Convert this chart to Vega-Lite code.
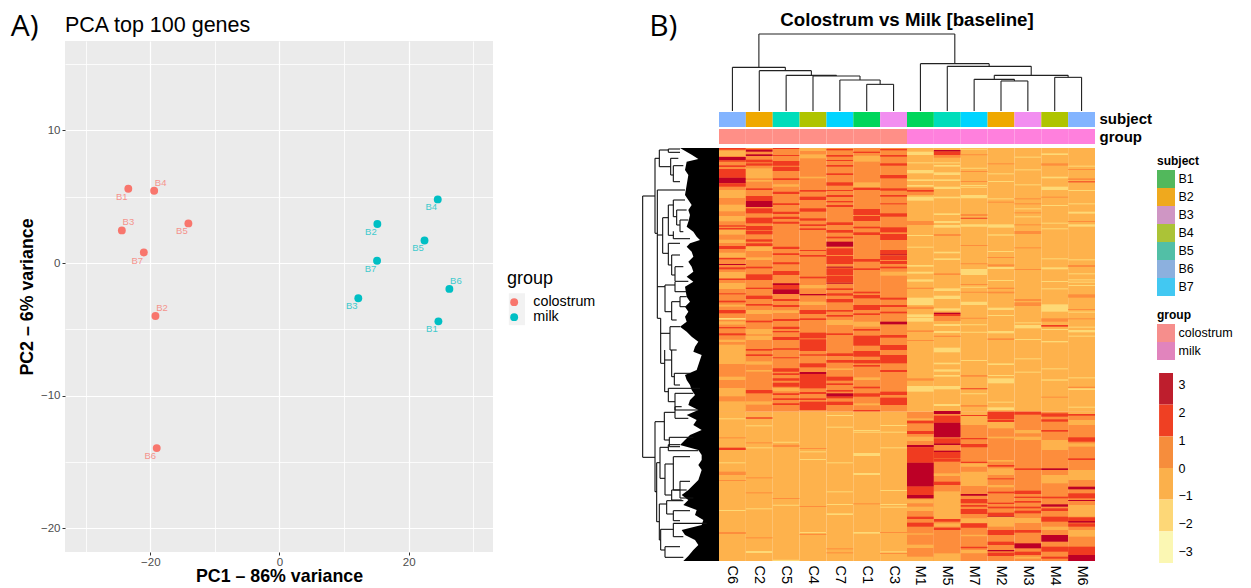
{"$schema":"https://vega.github.io/schema/vega-lite/v6.json","padding":{"left":10,"top":10,"right":0,"bottom":0},"background":"white","config":{"font":"Liberation Sans","view":{"stroke":null}},"spacing":5,"resolve":{"scale":{"color":"independent"},"legend":{"color":"independent"}},"datasets":{"pca":[{"s":"B1","g":"colostrum","x":-23.4,"y":5.6,"p":"dl"},{"s":"B4","g":"colostrum","x":-19.4,"y":5.45,"p":"ur"},{"s":"B3","g":"colostrum","x":-24.4,"y":2.46,"p":"ur"},{"s":"B5","g":"colostrum","x":-14.1,"y":2.99,"p":"dl"},{"s":"B7","g":"colostrum","x":-21.0,"y":0.79,"p":"dl"},{"s":"B2","g":"colostrum","x":-19.2,"y":-4.0,"p":"ur"},{"s":"B6","g":"colostrum","x":-19.0,"y":-13.96,"p":"dl"},{"s":"B4","g":"milk","x":24.5,"y":4.8,"p":"dl"},{"s":"B2","g":"milk","x":15.15,"y":2.94,"p":"dl"},{"s":"B5","g":"milk","x":22.45,"y":1.7,"p":"dl"},{"s":"B7","g":"milk","x":15.1,"y":0.17,"p":"dl"},{"s":"B6","g":"milk","x":26.3,"y":-1.95,"p":"ur"},{"s":"B3","g":"milk","x":12.2,"y":-2.66,"p":"dl"},{"s":"B1","g":"milk","x":24.6,"y":-4.4,"p":"dl"}],"heat":[
{"c":"C6","r":0,"R":791,"v":0.5},{"c":"C6","r":791,"R":1239,"v":-0.5},{"c":"C6","r":0,"R":5,"v":1.7},{"c":"C6","r":8,"R":24,"v":-0.5},{"c":"C6","r":27,"R":37,"v":2.8},{"c":"C6","r":37,"R":41,"v":1.7},{"c":"C6","r":52,"R":57,"v":1.7},{"c":"C6","r":63,"R":89,"v":1.7},{"c":"C6","r":89,"R":106,"v":2.8},{"c":"C6","r":106,"R":116,"v":1.7},{"c":"C6","r":126,"R":150,"v":-0.5},{"c":"C6","r":170,"R":190,"v":-0.5},{"c":"C6","r":204,"R":220,"v":-0.5},{"c":"C6","r":232,"R":236,"v":1.7},{"c":"C6","r":240,"R":244,"v":1.7},{"c":"C6","r":246,"R":260,"v":-0.5},{"c":"C6","r":275,"R":285,"v":-0.5},{"c":"C6","r":294,"R":303,"v":1.7},{"c":"C6","r":314,"R":328,"v":-0.5},{"c":"C6","r":330,"R":334,"v":1.7},{"c":"C6","r":348,"R":351,"v":2.8},{"c":"C6","r":358,"R":364,"v":1.7},{"c":"C6","r":372,"R":390,"v":-0.5},{"c":"C6","r":392,"R":396,"v":1.7},{"c":"C6","r":405,"R":423,"v":-0.5},{"c":"C6","r":436,"R":439,"v":1.7},{"c":"C6","r":458,"R":463,"v":1.7},{"c":"C6","r":470,"R":476,"v":-0.5},{"c":"C6","r":486,"R":496,"v":1.7},{"c":"C6","r":510,"R":515,"v":-1.5},{"c":"C6","r":520,"R":530,"v":-0.5},{"c":"C6","r":537,"R":541,"v":1.7},{"c":"C6","r":556,"R":562,"v":1.7},{"c":"C6","r":575,"R":582,"v":-0.5},{"c":"C6","r":590,"R":648,"v":-0.5},{"c":"C6","r":686,"R":696,"v":-0.5},{"c":"C6","r":720,"R":745,"v":-0.5},{"c":"C6","r":760,"R":791,"v":-0.5},{"c":"C6","r":811,"R":814,"v":-1.5},{"c":"C6","r":868,"R":871,"v":0.5},{"c":"C6","r":899,"R":906,"v":1.7},{"c":"C6","r":943,"R":946,"v":-1.5},{"c":"C6","r":971,"R":981,"v":0.5},{"c":"C6","r":996,"R":999,"v":0.5},{"c":"C6","r":1086,"R":1089,"v":-1.5},{"c":"C6","r":1152,"R":1158,"v":0.5},
{"c":"C2","r":0,"R":791,"v":0.5},{"c":"C2","r":791,"R":1239,"v":-0.5},{"c":"C2","r":3,"R":6,"v":1.7},{"c":"C2","r":6,"R":11,"v":2.8},{"c":"C2","r":19,"R":24,"v":2.8},{"c":"C2","r":35,"R":43,"v":1.7},{"c":"C2","r":46,"R":53,"v":1.7},{"c":"C2","r":61,"R":91,"v":-0.5},{"c":"C2","r":96,"R":101,"v":-0.5},{"c":"C2","r":121,"R":126,"v":1.7},{"c":"C2","r":144,"R":159,"v":1.7},{"c":"C2","r":159,"R":177,"v":2.8},{"c":"C2","r":181,"R":196,"v":1.7},{"c":"C2","r":209,"R":226,"v":1.7},{"c":"C2","r":234,"R":247,"v":1.7},{"c":"C2","r":249,"R":259,"v":1.7},{"c":"C2","r":274,"R":281,"v":1.7},{"c":"C2","r":286,"R":294,"v":1.7},{"c":"C2","r":296,"R":309,"v":-0.5},{"c":"C2","r":328,"R":336,"v":-0.5},{"c":"C2","r":356,"R":361,"v":1.7},{"c":"C2","r":379,"R":396,"v":1.7},{"c":"C2","r":419,"R":423,"v":1.7},{"c":"C2","r":443,"R":453,"v":1.7},{"c":"C2","r":468,"R":473,"v":1.7},{"c":"C2","r":486,"R":498,"v":-0.5},{"c":"C2","r":518,"R":523,"v":1.7},{"c":"C2","r":543,"R":559,"v":-0.5},{"c":"C2","r":563,"R":576,"v":-0.5},{"c":"C2","r":603,"R":608,"v":1.7},{"c":"C2","r":619,"R":624,"v":1.7},{"c":"C2","r":640,"R":650,"v":-0.5},{"c":"C2","r":666,"R":671,"v":-0.5},{"c":"C2","r":726,"R":736,"v":1.7},{"c":"C2","r":760,"R":770,"v":-0.5},{"c":"C2","r":808,"R":812,"v":1.7},{"c":"C2","r":832,"R":835,"v":-1.5},{"c":"C2","r":883,"R":886,"v":0.5},{"c":"C2","r":898,"R":901,"v":-1.5},{"c":"C2","r":988,"R":991,"v":0.5},{"c":"C2","r":1033,"R":1036,"v":0.5},{"c":"C2","r":1081,"R":1084,"v":-1.5},{"c":"C2","r":1168,"R":1171,"v":0.5},{"c":"C2","r":1209,"R":1215,"v":-1.5},
{"c":"C5","r":0,"R":791,"v":0.5},{"c":"C5","r":791,"R":1239,"v":-0.5},{"c":"C5","r":0,"R":3,"v":1.7},{"c":"C5","r":21,"R":24,"v":1.7},{"c":"C5","r":39,"R":53,"v":1.7},{"c":"C5","r":56,"R":69,"v":1.7},{"c":"C5","r":91,"R":96,"v":1.7},{"c":"C5","r":109,"R":116,"v":-0.5},{"c":"C5","r":131,"R":138,"v":1.7},{"c":"C5","r":166,"R":171,"v":1.7},{"c":"C5","r":191,"R":198,"v":1.7},{"c":"C5","r":206,"R":213,"v":1.7},{"c":"C5","r":221,"R":227,"v":1.7},{"c":"C5","r":296,"R":303,"v":1.7},{"c":"C5","r":316,"R":321,"v":1.7},{"c":"C5","r":343,"R":349,"v":1.7},{"c":"C5","r":369,"R":381,"v":1.7},{"c":"C5","r":406,"R":411,"v":2.8},{"c":"C5","r":411,"R":423,"v":1.7},{"c":"C5","r":424,"R":438,"v":2.8},{"c":"C5","r":453,"R":459,"v":1.7},{"c":"C5","r":471,"R":477,"v":1.7},{"c":"C5","r":487,"R":495,"v":-0.5},{"c":"C5","r":513,"R":519,"v":1.7},{"c":"C5","r":536,"R":543,"v":1.7},{"c":"C5","r":549,"R":553,"v":1.7},{"c":"C5","r":567,"R":576,"v":1.7},{"c":"C5","r":601,"R":605,"v":1.7},{"c":"C5","r":628,"R":631,"v":1.7},{"c":"C5","r":661,"R":671,"v":1.7},{"c":"C5","r":676,"R":681,"v":1.7},{"c":"C5","r":691,"R":698,"v":1.7},{"c":"C5","r":704,"R":716,"v":1.7},{"c":"C5","r":720,"R":730,"v":-0.5},{"c":"C5","r":736,"R":741,"v":1.7},{"c":"C5","r":751,"R":756,"v":1.7},{"c":"C5","r":766,"R":771,"v":1.7},{"c":"C5","r":881,"R":884,"v":-1.5},{"c":"C5","r":890,"R":897,"v":0.5},{"c":"C5","r":1050,"R":1053,"v":0.5},{"c":"C5","r":1070,"R":1073,"v":-1.5},{"c":"C5","r":1235,"R":1239,"v":-1.5},
{"c":"C4","r":0,"R":791,"v":0.5},{"c":"C4","r":791,"R":1239,"v":-0.5},{"c":"C4","r":0,"R":9,"v":-0.5},{"c":"C4","r":19,"R":31,"v":-0.5},{"c":"C4","r":86,"R":91,"v":-0.5},{"c":"C4","r":126,"R":131,"v":1.7},{"c":"C4","r":146,"R":156,"v":1.7},{"c":"C4","r":181,"R":191,"v":1.7},{"c":"C4","r":211,"R":218,"v":1.7},{"c":"C4","r":229,"R":234,"v":1.7},{"c":"C4","r":241,"R":246,"v":1.7},{"c":"C4","r":306,"R":309,"v":1.7},{"c":"C4","r":321,"R":326,"v":1.7},{"c":"C4","r":386,"R":391,"v":1.7},{"c":"C4","r":411,"R":421,"v":-0.5},{"c":"C4","r":438,"R":442,"v":2.8},{"c":"C4","r":461,"R":471,"v":-0.5},{"c":"C4","r":486,"R":498,"v":1.7},{"c":"C4","r":511,"R":516,"v":1.7},{"c":"C4","r":554,"R":571,"v":1.7},{"c":"C4","r":574,"R":609,"v":1.7},{"c":"C4","r":619,"R":623,"v":1.7},{"c":"C4","r":646,"R":658,"v":1.7},{"c":"C4","r":672,"R":678,"v":2.8},{"c":"C4","r":678,"R":721,"v":1.7},{"c":"C4","r":732,"R":738,"v":1.7},{"c":"C4","r":751,"R":756,"v":1.7},{"c":"C4","r":761,"R":786,"v":1.7},{"c":"C4","r":900,"R":903,"v":0.5},{"c":"C4","r":910,"R":913,"v":-1.5},{"c":"C4","r":933,"R":936,"v":-1.5},{"c":"C4","r":1074,"R":1077,"v":0.5},{"c":"C4","r":1152,"R":1155,"v":-1.5},{"c":"C4","r":1158,"R":1161,"v":0.5},
{"c":"C7","r":0,"R":791,"v":0.5},{"c":"C7","r":791,"R":1239,"v":-0.5},{"c":"C7","r":3,"R":7,"v":1.7},{"c":"C7","r":21,"R":26,"v":1.7},{"c":"C7","r":36,"R":39,"v":1.7},{"c":"C7","r":51,"R":56,"v":1.7},{"c":"C7","r":76,"R":81,"v":1.7},{"c":"C7","r":103,"R":113,"v":1.7},{"c":"C7","r":126,"R":129,"v":1.7},{"c":"C7","r":141,"R":147,"v":1.7},{"c":"C7","r":159,"R":163,"v":1.7},{"c":"C7","r":171,"R":177,"v":1.7},{"c":"C7","r":223,"R":231,"v":1.7},{"c":"C7","r":246,"R":254,"v":1.7},{"c":"C7","r":266,"R":271,"v":1.7},{"c":"C7","r":281,"R":296,"v":2.8},{"c":"C7","r":301,"R":321,"v":1.7},{"c":"C7","r":324,"R":348,"v":1.7},{"c":"C7","r":356,"R":359,"v":2.8},{"c":"C7","r":361,"R":381,"v":1.7},{"c":"C7","r":383,"R":403,"v":1.7},{"c":"C7","r":404,"R":407,"v":2.8},{"c":"C7","r":421,"R":426,"v":1.7},{"c":"C7","r":436,"R":443,"v":1.7},{"c":"C7","r":453,"R":463,"v":1.7},{"c":"C7","r":486,"R":491,"v":1.7},{"c":"C7","r":501,"R":506,"v":1.7},{"c":"C7","r":516,"R":531,"v":-0.5},{"c":"C7","r":556,"R":561,"v":1.7},{"c":"C7","r":616,"R":624,"v":1.7},{"c":"C7","r":636,"R":644,"v":1.7},{"c":"C7","r":661,"R":666,"v":-0.5},{"c":"C7","r":686,"R":698,"v":1.7},{"c":"C7","r":706,"R":711,"v":1.7},{"c":"C7","r":726,"R":731,"v":1.7},{"c":"C7","r":736,"R":746,"v":2.8},{"c":"C7","r":746,"R":751,"v":1.7},{"c":"C7","r":761,"R":771,"v":1.7},{"c":"C7","r":801,"R":804,"v":-1.5},{"c":"C7","r":836,"R":839,"v":-1.5},{"c":"C7","r":943,"R":946,"v":-1.5},{"c":"C7","r":1030,"R":1033,"v":-1.5},{"c":"C7","r":1068,"R":1071,"v":-1.5},{"c":"C7","r":1096,"R":1101,"v":-1.5},{"c":"C7","r":1201,"R":1204,"v":0.5},{"c":"C7","r":1213,"R":1216,"v":0.5},
{"c":"C1","r":0,"R":791,"v":0.5},{"c":"C1","r":791,"R":1239,"v":-0.5},{"c":"C1","r":11,"R":15,"v":1.7},{"c":"C1","r":23,"R":41,"v":-0.5},{"c":"C1","r":103,"R":119,"v":-0.5},{"c":"C1","r":119,"R":126,"v":1.7},{"c":"C1","r":183,"R":201,"v":1.7},{"c":"C1","r":204,"R":219,"v":1.7},{"c":"C1","r":236,"R":241,"v":1.7},{"c":"C1","r":253,"R":261,"v":1.7},{"c":"C1","r":333,"R":341,"v":1.7},{"c":"C1","r":361,"R":366,"v":1.7},{"c":"C1","r":431,"R":436,"v":1.7},{"c":"C1","r":441,"R":451,"v":1.7},{"c":"C1","r":471,"R":486,"v":1.7},{"c":"C1","r":496,"R":501,"v":1.7},{"c":"C1","r":521,"R":536,"v":-0.5},{"c":"C1","r":543,"R":548,"v":1.7},{"c":"C1","r":563,"R":593,"v":1.7},{"c":"C1","r":609,"R":626,"v":1.7},{"c":"C1","r":636,"R":646,"v":1.7},{"c":"C1","r":651,"R":656,"v":1.7},{"c":"C1","r":688,"R":696,"v":-0.5},{"c":"C1","r":716,"R":721,"v":1.7},{"c":"C1","r":736,"R":746,"v":1.7},{"c":"C1","r":766,"R":772,"v":-0.5},{"c":"C1","r":786,"R":790,"v":1.7},{"c":"C1","r":846,"R":849,"v":-1.5},{"c":"C1","r":851,"R":854,"v":-1.5},{"c":"C1","r":915,"R":924,"v":-1.5},{"c":"C1","r":975,"R":981,"v":-1.5},{"c":"C1","r":1066,"R":1069,"v":0.5},{"c":"C1","r":1152,"R":1157,"v":-1.5},
{"c":"C3","r":0,"R":791,"v":0.5},{"c":"C3","r":791,"R":1239,"v":-0.5},{"c":"C3","r":3,"R":7,"v":1.7},{"c":"C3","r":21,"R":26,"v":1.7},{"c":"C3","r":46,"R":53,"v":1.7},{"c":"C3","r":81,"R":91,"v":1.7},{"c":"C3","r":121,"R":128,"v":1.7},{"c":"C3","r":141,"R":146,"v":1.7},{"c":"C3","r":166,"R":169,"v":1.7},{"c":"C3","r":196,"R":206,"v":1.7},{"c":"C3","r":238,"R":253,"v":1.7},{"c":"C3","r":258,"R":276,"v":1.7},{"c":"C3","r":306,"R":319,"v":1.7},{"c":"C3","r":319,"R":322,"v":2.8},{"c":"C3","r":323,"R":336,"v":1.7},{"c":"C3","r":339,"R":348,"v":1.7},{"c":"C3","r":356,"R":361,"v":1.7},{"c":"C3","r":371,"R":383,"v":-0.5},{"c":"C3","r":449,"R":455,"v":1.7},{"c":"C3","r":471,"R":477,"v":1.7},{"c":"C3","r":491,"R":496,"v":1.7},{"c":"C3","r":521,"R":529,"v":2.8},{"c":"C3","r":561,"R":569,"v":1.7},{"c":"C3","r":591,"R":606,"v":1.7},{"c":"C3","r":621,"R":646,"v":1.7},{"c":"C3","r":666,"R":672,"v":1.7},{"c":"C3","r":731,"R":741,"v":1.7},{"c":"C3","r":749,"R":771,"v":1.7},{"c":"C3","r":831,"R":834,"v":-1.5},{"c":"C3","r":851,"R":854,"v":-1.5},{"c":"C3","r":898,"R":901,"v":-1.5},{"c":"C3","r":1026,"R":1029,"v":-1.5},{"c":"C3","r":1068,"R":1071,"v":-1.5},{"c":"C3","r":1076,"R":1079,"v":-1.5},{"c":"C3","r":1152,"R":1155,"v":0.5},{"c":"C3","r":1210,"R":1213,"v":-1.5},{"c":"C3","r":1215,"R":1218,"v":0.5},
{"c":"M1","r":0,"R":791,"v":-0.5},{"c":"M1","r":791,"R":1239,"v":0.5},{"c":"M1","r":11,"R":21,"v":-1.5},{"c":"M1","r":43,"R":46,"v":-1.5},{"c":"M1","r":66,"R":76,"v":-1.5},{"c":"M1","r":94,"R":99,"v":-1.5},{"c":"M1","r":111,"R":116,"v":-1.5},{"c":"M1","r":119,"R":141,"v":0.5},{"c":"M1","r":126,"R":131,"v":1.7},{"c":"M1","r":146,"R":158,"v":-1.5},{"c":"M1","r":219,"R":231,"v":0.5},{"c":"M1","r":261,"R":264,"v":-1.5},{"c":"M1","r":296,"R":299,"v":-1.5},{"c":"M1","r":351,"R":356,"v":-1.5},{"c":"M1","r":371,"R":377,"v":-1.5},{"c":"M1","r":394,"R":401,"v":-1.5},{"c":"M1","r":419,"R":423,"v":0.5},{"c":"M1","r":449,"R":471,"v":-1.5},{"c":"M1","r":476,"R":483,"v":0.5},{"c":"M1","r":499,"R":507,"v":-1.5},{"c":"M1","r":509,"R":521,"v":-1.5},{"c":"M1","r":547,"R":552,"v":0.5},{"c":"M1","r":576,"R":579,"v":0.5},{"c":"M1","r":691,"R":698,"v":0.5},{"c":"M1","r":714,"R":731,"v":-1.5},{"c":"M1","r":811,"R":818,"v":-0.5},{"c":"M1","r":818,"R":826,"v":1.7},{"c":"M1","r":849,"R":858,"v":1.7},{"c":"M1","r":866,"R":879,"v":-0.5},{"c":"M1","r":891,"R":898,"v":2.8},{"c":"M1","r":898,"R":944,"v":1.7},{"c":"M1","r":944,"R":1016,"v":2.8},{"c":"M1","r":1016,"R":1041,"v":1.7},{"c":"M1","r":1041,"R":1051,"v":2.8},{"c":"M1","r":1054,"R":1066,"v":-0.5},{"c":"M1","r":1076,"R":1089,"v":-0.5},{"c":"M1","r":1106,"R":1113,"v":1.7},{"c":"M1","r":1124,"R":1136,"v":1.7},{"c":"M1","r":1156,"R":1160,"v":-0.5},{"c":"M1","r":1190,"R":1200,"v":-0.5},{"c":"M1","r":1226,"R":1239,"v":-0.5},
{"c":"M5","r":0,"R":791,"v":-0.5},{"c":"M5","r":791,"R":1239,"v":0.5},{"c":"M5","r":6,"R":11,"v":2.8},{"c":"M5","r":11,"R":21,"v":1.7},{"c":"M5","r":21,"R":29,"v":0.5},{"c":"M5","r":43,"R":46,"v":-1.5},{"c":"M5","r":51,"R":56,"v":-1.5},{"c":"M5","r":73,"R":81,"v":-1.5},{"c":"M5","r":94,"R":99,"v":-1.5},{"c":"M5","r":116,"R":123,"v":-1.5},{"c":"M5","r":146,"R":151,"v":-1.5},{"c":"M5","r":196,"R":201,"v":-1.5},{"c":"M5","r":219,"R":225,"v":-1.5},{"c":"M5","r":231,"R":239,"v":-1.5},{"c":"M5","r":258,"R":264,"v":0.5},{"c":"M5","r":311,"R":316,"v":-1.5},{"c":"M5","r":331,"R":336,"v":-1.5},{"c":"M5","r":376,"R":381,"v":0.5},{"c":"M5","r":421,"R":429,"v":-1.5},{"c":"M5","r":443,"R":453,"v":-1.5},{"c":"M5","r":481,"R":488,"v":-1.5},{"c":"M5","r":494,"R":498,"v":2.8},{"c":"M5","r":498,"R":505,"v":1.7},{"c":"M5","r":505,"R":519,"v":0.5},{"c":"M5","r":528,"R":534,"v":-1.5},{"c":"M5","r":549,"R":555,"v":-1.5},{"c":"M5","r":563,"R":567,"v":0.5},{"c":"M5","r":599,"R":613,"v":-1.5},{"c":"M5","r":644,"R":649,"v":-1.5},{"c":"M5","r":664,"R":671,"v":-1.5},{"c":"M5","r":681,"R":686,"v":-1.5},{"c":"M5","r":714,"R":724,"v":-1.5},{"c":"M5","r":768,"R":774,"v":-1.5},{"c":"M5","r":789,"R":798,"v":2.8},{"c":"M5","r":803,"R":824,"v":1.7},{"c":"M5","r":824,"R":868,"v":2.8},{"c":"M5","r":871,"R":886,"v":1.7},{"c":"M5","r":886,"R":891,"v":2.8},{"c":"M5","r":911,"R":931,"v":1.7},{"c":"M5","r":908,"R":912,"v":2.8},{"c":"M5","r":932,"R":941,"v":1.7},{"c":"M5","r":976,"R":984,"v":-0.5},{"c":"M5","r":1001,"R":1011,"v":1.7},{"c":"M5","r":1030,"R":1113,"v":-0.5},{"c":"M5","r":1113,"R":1121,"v":1.7},{"c":"M5","r":1126,"R":1136,"v":-0.5},{"c":"M5","r":1139,"R":1146,"v":1.7},{"c":"M5","r":1216,"R":1239,"v":-0.5},
{"c":"M7","r":0,"R":791,"v":-0.5},{"c":"M7","r":791,"R":1239,"v":0.5},{"c":"M7","r":2,"R":5,"v":-1.5},{"c":"M7","r":19,"R":22,"v":0.5},{"c":"M7","r":59,"R":62,"v":-1.5},{"c":"M7","r":69,"R":72,"v":0.5},{"c":"M7","r":99,"R":102,"v":0.5},{"c":"M7","r":111,"R":114,"v":-1.5},{"c":"M7","r":116,"R":119,"v":-1.5},{"c":"M7","r":141,"R":151,"v":-1.5},{"c":"M7","r":198,"R":204,"v":0.5},{"c":"M7","r":209,"R":212,"v":1.7},{"c":"M7","r":229,"R":236,"v":-1.5},{"c":"M7","r":291,"R":294,"v":0.5},{"c":"M7","r":346,"R":349,"v":0.5},{"c":"M7","r":363,"R":381,"v":-1.5},{"c":"M7","r":408,"R":411,"v":0.5},{"c":"M7","r":416,"R":419,"v":-1.5},{"c":"M7","r":431,"R":434,"v":0.5},{"c":"M7","r":461,"R":471,"v":-1.5},{"c":"M7","r":509,"R":512,"v":0.5},{"c":"M7","r":529,"R":532,"v":-1.5},{"c":"M7","r":551,"R":554,"v":-1.5},{"c":"M7","r":636,"R":639,"v":-1.5},{"c":"M7","r":681,"R":686,"v":0.5},{"c":"M7","r":721,"R":724,"v":1.7},{"c":"M7","r":736,"R":739,"v":-1.5},{"c":"M7","r":771,"R":776,"v":0.5},{"c":"M7","r":791,"R":831,"v":-0.5},{"c":"M7","r":801,"R":804,"v":1.7},{"c":"M7","r":870,"R":874,"v":1.7},{"c":"M7","r":888,"R":898,"v":1.7},{"c":"M7","r":941,"R":946,"v":1.7},{"c":"M7","r":946,"R":956,"v":-0.5},{"c":"M7","r":971,"R":1014,"v":-0.5},{"c":"M7","r":1038,"R":1043,"v":2.8},{"c":"M7","r":1053,"R":1066,"v":1.7},{"c":"M7","r":1071,"R":1076,"v":1.7},{"c":"M7","r":1083,"R":1098,"v":1.7},{"c":"M7","r":1111,"R":1126,"v":-0.5},{"c":"M7","r":1126,"R":1139,"v":1.7},{"c":"M7","r":1160,"R":1165,"v":-0.5},{"c":"M7","r":1196,"R":1201,"v":1.7},{"c":"M7","r":1206,"R":1216,"v":-0.5},
{"c":"M2","r":0,"R":791,"v":-0.5},{"c":"M2","r":791,"R":1239,"v":0.5},{"c":"M2","r":46,"R":49,"v":0.5},{"c":"M2","r":76,"R":79,"v":-1.5},{"c":"M2","r":99,"R":102,"v":-1.5},{"c":"M2","r":151,"R":154,"v":-1.5},{"c":"M2","r":161,"R":164,"v":0.5},{"c":"M2","r":229,"R":239,"v":-1.5},{"c":"M2","r":259,"R":263,"v":-1.5},{"c":"M2","r":309,"R":312,"v":-1.5},{"c":"M2","r":327,"R":330,"v":0.5},{"c":"M2","r":349,"R":355,"v":0.5},{"c":"M2","r":357,"R":363,"v":-1.5},{"c":"M2","r":396,"R":399,"v":-1.5},{"c":"M2","r":419,"R":423,"v":0.5},{"c":"M2","r":431,"R":436,"v":0.5},{"c":"M2","r":479,"R":486,"v":-1.5},{"c":"M2","r":501,"R":504,"v":-1.5},{"c":"M2","r":549,"R":556,"v":-1.5},{"c":"M2","r":571,"R":576,"v":0.5},{"c":"M2","r":646,"R":651,"v":-1.5},{"c":"M2","r":681,"R":684,"v":-1.5},{"c":"M2","r":691,"R":706,"v":-1.5},{"c":"M2","r":761,"R":764,"v":-1.5},{"c":"M2","r":778,"R":786,"v":-1.5},{"c":"M2","r":791,"R":814,"v":1.7},{"c":"M2","r":816,"R":822,"v":1.7},{"c":"M2","r":822,"R":841,"v":-0.5},{"c":"M2","r":866,"R":871,"v":-0.5},{"c":"M2","r":936,"R":941,"v":-0.5},{"c":"M2","r":951,"R":956,"v":1.7},{"c":"M2","r":961,"R":981,"v":-0.5},{"c":"M2","r":991,"R":994,"v":1.7},{"c":"M2","r":1011,"R":1018,"v":-0.5},{"c":"M2","r":1031,"R":1036,"v":1.7},{"c":"M2","r":1064,"R":1068,"v":1.7},{"c":"M2","r":1076,"R":1081,"v":1.7},{"c":"M2","r":1094,"R":1106,"v":1.7},{"c":"M2","r":1104,"R":1107,"v":2.8},{"c":"M2","r":1106,"R":1136,"v":-0.5},{"c":"M2","r":1146,"R":1161,"v":1.7},{"c":"M2","r":1181,"R":1191,"v":1.7},{"c":"M2","r":1206,"R":1210,"v":2.8},{"c":"M2","r":1214,"R":1224,"v":1.7},
{"c":"M3","r":0,"R":791,"v":-0.5},{"c":"M3","r":791,"R":1239,"v":0.5},{"c":"M3","r":26,"R":29,"v":-1.5},{"c":"M3","r":64,"R":67,"v":-1.5},{"c":"M3","r":109,"R":112,"v":-1.5},{"c":"M3","r":151,"R":154,"v":0.5},{"c":"M3","r":166,"R":169,"v":0.5},{"c":"M3","r":181,"R":184,"v":-1.5},{"c":"M3","r":193,"R":196,"v":0.5},{"c":"M3","r":205,"R":208,"v":-1.5},{"c":"M3","r":229,"R":232,"v":0.5},{"c":"M3","r":249,"R":258,"v":0.5},{"c":"M3","r":298,"R":301,"v":0.5},{"c":"M3","r":363,"R":366,"v":0.5},{"c":"M3","r":453,"R":459,"v":0.5},{"c":"M3","r":463,"R":474,"v":0.5},{"c":"M3","r":523,"R":526,"v":-1.5},{"c":"M3","r":531,"R":541,"v":-1.5},{"c":"M3","r":573,"R":576,"v":-1.5},{"c":"M3","r":631,"R":634,"v":-1.5},{"c":"M3","r":671,"R":674,"v":-1.5},{"c":"M3","r":791,"R":800,"v":1.7},{"c":"M3","r":846,"R":856,"v":-0.5},{"c":"M3","r":866,"R":876,"v":-0.5},{"c":"M3","r":961,"R":966,"v":1.7},{"c":"M3","r":1028,"R":1038,"v":1.7},{"c":"M3","r":1046,"R":1050,"v":1.7},{"c":"M3","r":1059,"R":1064,"v":1.7},{"c":"M3","r":1076,"R":1081,"v":1.7},{"c":"M3","r":1088,"R":1096,"v":1.7},{"c":"M3","r":1110,"R":1125,"v":-0.5},{"c":"M3","r":1146,"R":1154,"v":1.7},{"c":"M3","r":1186,"R":1201,"v":2.8},{"c":"M3","r":1211,"R":1221,"v":1.7},{"c":"M3","r":1226,"R":1232,"v":-0.5},
{"c":"M4","r":0,"R":791,"v":-0.5},{"c":"M4","r":791,"R":1239,"v":0.5},{"c":"M4","r":16,"R":21,"v":-1.5},{"c":"M4","r":46,"R":53,"v":0.5},{"c":"M4","r":86,"R":91,"v":-1.5},{"c":"M4","r":116,"R":126,"v":-1.5},{"c":"M4","r":146,"R":149,"v":0.5},{"c":"M4","r":171,"R":174,"v":-1.5},{"c":"M4","r":224,"R":227,"v":-1.5},{"c":"M4","r":241,"R":244,"v":-1.5},{"c":"M4","r":331,"R":334,"v":-1.5},{"c":"M4","r":358,"R":364,"v":-1.5},{"c":"M4","r":399,"R":402,"v":-1.5},{"c":"M4","r":421,"R":424,"v":-1.5},{"c":"M4","r":469,"R":491,"v":-1.5},{"c":"M4","r":511,"R":521,"v":0.5},{"c":"M4","r":531,"R":536,"v":1.7},{"c":"M4","r":543,"R":546,"v":-1.5},{"c":"M4","r":579,"R":583,"v":-1.5},{"c":"M4","r":661,"R":664,"v":-1.5},{"c":"M4","r":694,"R":698,"v":-1.5},{"c":"M4","r":746,"R":749,"v":0.5},{"c":"M4","r":796,"R":806,"v":1.7},{"c":"M4","r":814,"R":821,"v":1.7},{"c":"M4","r":846,"R":851,"v":1.7},{"c":"M4","r":876,"R":906,"v":-0.5},{"c":"M4","r":961,"R":966,"v":2.8},{"c":"M4","r":981,"R":1006,"v":-0.5},{"c":"M4","r":1046,"R":1051,"v":1.7},{"c":"M4","r":1069,"R":1076,"v":2.8},{"c":"M4","r":1081,"R":1089,"v":1.7},{"c":"M4","r":1106,"R":1121,"v":1.7},{"c":"M4","r":1136,"R":1146,"v":-0.5},{"c":"M4","r":1161,"R":1181,"v":2.8},{"c":"M4","r":1196,"R":1211,"v":1.7},{"c":"M4","r":1226,"R":1232,"v":1.7},
{"c":"M6","r":0,"R":791,"v":-0.5},{"c":"M6","r":791,"R":1239,"v":0.5},{"c":"M6","r":53,"R":56,"v":-1.5},{"c":"M6","r":63,"R":66,"v":0.5},{"c":"M6","r":91,"R":96,"v":0.5},{"c":"M6","r":100,"R":103,"v":1.7},{"c":"M6","r":126,"R":129,"v":-1.5},{"c":"M6","r":166,"R":169,"v":-1.5},{"c":"M6","r":191,"R":197,"v":-1.5},{"c":"M6","r":219,"R":222,"v":0.5},{"c":"M6","r":229,"R":236,"v":-1.5},{"c":"M6","r":334,"R":337,"v":-1.5},{"c":"M6","r":351,"R":357,"v":0.5},{"c":"M6","r":376,"R":379,"v":-1.5},{"c":"M6","r":394,"R":397,"v":-1.5},{"c":"M6","r":401,"R":404,"v":-1.5},{"c":"M6","r":411,"R":414,"v":-1.5},{"c":"M6","r":439,"R":449,"v":0.5},{"c":"M6","r":483,"R":486,"v":0.5},{"c":"M6","r":491,"R":494,"v":-1.5},{"c":"M6","r":511,"R":514,"v":0.5},{"c":"M6","r":536,"R":539,"v":-1.5},{"c":"M6","r":546,"R":553,"v":-1.5},{"c":"M6","r":563,"R":566,"v":-1.5},{"c":"M6","r":688,"R":691,"v":-1.5},{"c":"M6","r":716,"R":720,"v":0.5},{"c":"M6","r":721,"R":726,"v":-1.5},{"c":"M6","r":776,"R":779,"v":-1.5},{"c":"M6","r":791,"R":798,"v":-0.5},{"c":"M6","r":798,"R":803,"v":1.7},{"c":"M6","r":816,"R":831,"v":-0.5},{"c":"M6","r":868,"R":881,"v":1.7},{"c":"M6","r":886,"R":896,"v":-0.5},{"c":"M6","r":931,"R":936,"v":1.7},{"c":"M6","r":966,"R":996,"v":-0.5},{"c":"M6","r":1016,"R":1024,"v":2.8},{"c":"M6","r":1036,"R":1051,"v":1.7},{"c":"M6","r":1056,"R":1059,"v":2.8},{"c":"M6","r":1071,"R":1106,"v":-0.5},{"c":"M6","r":1108,"R":1119,"v":1.7},{"c":"M6","r":1119,"R":1124,"v":2.8},{"c":"M6","r":1126,"R":1136,"v":1.7},{"c":"M6","r":1146,"R":1166,"v":-0.5},{"c":"M6","r":1196,"R":1221,"v":1.7},{"c":"M6","r":1221,"R":1239,"v":2.8}
],"mass":[{"r":0,"h":117},{"r":20,"h":82},{"r":33,"h":62},{"r":41,"h":97},{"r":66,"h":102},{"r":81,"h":92},{"r":111,"h":97},{"r":141,"h":102},{"r":156,"h":92},{"r":171,"h":82},{"r":186,"h":92},{"r":201,"h":87},{"r":221,"h":92},{"r":236,"h":97},{"r":251,"h":77},{"r":266,"h":67},{"r":276,"h":57},{"r":286,"h":87},{"r":296,"h":97},{"r":311,"h":82},{"r":326,"h":77},{"r":341,"h":92},{"r":356,"h":82},{"r":371,"h":77},{"r":386,"h":97},{"r":401,"h":77},{"r":416,"h":102},{"r":446,"h":97},{"r":461,"h":87},{"r":476,"h":102},{"r":491,"h":92},{"r":506,"h":102},{"r":521,"h":97},{"r":536,"h":117},{"r":551,"h":97},{"r":566,"h":82},{"r":581,"h":62},{"r":596,"h":72},{"r":611,"h":77},{"r":621,"h":52},{"r":636,"h":57},{"r":651,"h":62},{"r":666,"h":67},{"r":681,"h":102},{"r":696,"h":97},{"r":711,"h":87},{"r":726,"h":82},{"r":741,"h":72},{"r":756,"h":87},{"r":771,"h":92},{"r":786,"h":62},{"r":801,"h":97},{"r":816,"h":67},{"r":831,"h":77},{"r":846,"h":52},{"r":861,"h":87},{"r":876,"h":102},{"r":891,"h":117},{"r":906,"h":62},{"r":921,"h":52},{"r":936,"h":52},{"r":951,"h":62},{"r":966,"h":52},{"r":981,"h":57},{"r":996,"h":62},{"r":1011,"h":77},{"r":1026,"h":92},{"r":1041,"h":112},{"r":1056,"h":92},{"r":1071,"h":107},{"r":1086,"h":67},{"r":1101,"h":72},{"r":1116,"h":47},{"r":1131,"h":52},{"r":1146,"h":112},{"r":1161,"h":102},{"r":1176,"h":72},{"r":1191,"h":62},{"r":1206,"h":77},{"r":1224,"h":92},{"r":1239,"h":107}]},
"hconcat":[
{"width":428,"height":511,"view":{"fill":"#EBEBEB","stroke":null},"title":{"text":"PCA top 100 genes","anchor":"start","frame":"group","fontSize":21.5,"fontWeight":"normal","offset":-24,"color":"#000"},
"layer":[
{"data":{"values":[{"k":"key"}]},"mark":{"type":"rect","color":"#F2F2F2"},"encoding":{"x":{"datum":35.5},"x2":{"datum":38},"y":{"datum":-2.28},"y2":{"datum":-4.69}}},
{"data":{"name":"pca"},"mark":{"type":"point","filled":true,"size":62,"opacity":1},"encoding":{"x":{"field":"x","type":"quantitative","title":"PC1 – 86% variance","scale":{"domain":[-33.2,33.05],"nice":false,"zero":false},"axis":{"grid":true,"values":[-30,-20,-10,0,10,20,30],"labelExpr":"datum.value%20==0?datum.label:''","tickSize":3,"tickColor":{"condition":{"test":"datum.value%20==0","value":"#333333"},"value":"transparent"},"gridColor":"white","gridOpacity":1,"gridWidth":{"condition":{"test":"datum.value%20==0","value":1.2},"value":0.8},"domain":false,"labelColor":"#4D4D4D","labelFontSize":11.5,"labelPadding":1,"titleFontSize":17.8,"titleColor":"#000","titlePadding":0,"labelOverlap":false}},"y":{"field":"y","type":"quantitative","title":"PC2 – 6% variance","scale":{"domain":[-21.8,16.75],"nice":false,"zero":false},"axis":{"grid":true,"values":[-20,-15,-10,-5,0,5,10,15],"labelExpr":"datum.value%10==0?datum.label:''","tickSize":3,"tickColor":{"condition":{"test":"datum.value%10==0","value":"#333333"},"value":"transparent"},"gridColor":"white","gridOpacity":1,"gridWidth":{"condition":{"test":"datum.value%10==0","value":1.2},"value":0.8},"domain":false,"labelColor":"#4D4D4D","labelFontSize":11.5,"labelPadding":2,"titleFontSize":17.8,"titleColor":"#000","titlePadding":4,"labelOverlap":false}},"color":{"field":"g","type":"nominal","title":"group","scale":{"domain":["colostrum","milk"],"range":["#F8766D","#00BFC4"]},"legend":{"orient":"none","legendX":442,"legendY":229,"titleFontSize":18,"titleFontWeight":"normal","titleColor":"#000","labelFontSize":14.3,"labelColor":"#000","symbolSize":62,"symbolType":"circle","symbolOpacity":1,"rowPadding":0,"labelOffset":12,"titlePadding":7,"zindex":1}}}},
{"data":{"name":"pca"},"transform":[{"filter":"datum.p=='dl'"}],"mark":{"type":"text","dx":-6.5,"dy":8,"fontSize":9.5,"opacity":0.75},"encoding":{"x":{"field":"x","type":"quantitative"},"y":{"field":"y","type":"quantitative"},"color":{"field":"g","type":"nominal","legend":null},"text":{"field":"s"}}},
{"data":{"name":"pca"},"transform":[{"filter":"datum.p=='ur'"}],"mark":{"type":"text","dx":6.5,"dy":-8,"fontSize":9.5,"opacity":0.75},"encoding":{"x":{"field":"x","type":"quantitative"},"y":{"field":"y","type":"quantitative"},"color":{"field":"g","type":"nominal","legend":null},"text":{"field":"s"}}},
{"data":{"values":[{"t":"A)"}]},"mark":{"type":"text","align":"left","baseline":"alphabetic","font":"Open Sans","fontSize":30,"color":"#000"},"encoding":{"x":{"datum":-41.6},"y":{"datum":17.09},"text":{"field":"t"}}}
]},
{"width":36,"height":1,"data":{"values":[{"s":1}]},"mark":{"type":"rect","opacity":0}},
{"vconcat":[
{"width":376,"height":70,"title":{"text":"Colostrum vs Milk [baseline]","anchor":"middle","frame":"group","fontSize":18.7,"fontWeight":"bold","offset":-17,"color":"#000"},
"layer":[
{"data":{"values":[{"a":5.5,"b":6.5,"h":0.346,"k":0.346},{"a":5.5,"b":5.5,"h":0,"k":0.346},{"a":6.5,"b":6.5,"h":0,"k":0.346},{"a":4.5,"b":6,"h":0.403,"k":0.403},{"a":4.5,"b":4.5,"h":0,"k":0.403},{"a":6,"b":6,"h":0.346,"k":0.403},{"a":3.5,"b":5.25,"h":0.455,"k":0.455},{"a":3.5,"b":3.5,"h":0,"k":0.455},{"a":5.25,"b":5.25,"h":0.403,"k":0.455},{"a":2.5,"b":4.375,"h":0.463,"k":0.463},{"a":2.5,"b":2.5,"h":0,"k":0.463},{"a":4.375,"b":4.375,"h":0.455,"k":0.463},{"a":1.5,"b":3.44,"h":0.524,"k":0.524},{"a":1.5,"b":1.5,"h":0,"k":0.524},{"a":3.44,"b":3.44,"h":0.463,"k":0.524},{"a":0.5,"b":2.47,"h":0.567,"k":0.567},{"a":0.5,"b":0.5,"h":0,"k":0.567},{"a":2.47,"b":2.47,"h":0.524,"k":0.567},{"a":10.5,"b":11.5,"h":0.39,"k":0.39},{"a":10.5,"b":10.5,"h":0,"k":0.39},{"a":11.5,"b":11.5,"h":0,"k":0.39},{"a":9.5,"b":11,"h":0.411,"k":0.411},{"a":9.5,"b":9.5,"h":0,"k":0.411},{"a":11,"b":11,"h":0.39,"k":0.411},{"a":12.5,"b":13.5,"h":0.437,"k":0.437},{"a":12.5,"b":12.5,"h":0,"k":0.437},{"a":13.5,"b":13.5,"h":0,"k":0.437},{"a":10.25,"b":13,"h":0.463,"k":0.463},{"a":10.25,"b":10.25,"h":0.411,"k":0.463},{"a":13,"b":13,"h":0.437,"k":0.463},{"a":8.5,"b":11.625,"h":0.58,"k":0.58},{"a":8.5,"b":8.5,"h":0,"k":0.58},{"a":11.625,"b":11.625,"h":0.463,"k":0.58},{"a":7.5,"b":10.06,"h":0.615,"k":0.615},{"a":7.5,"b":7.5,"h":0,"k":0.615},{"a":10.06,"b":10.06,"h":0.58,"k":0.615},{"a":1.485,"b":8.78,"h":1,"k":1},{"a":1.485,"b":1.485,"h":0.567,"k":1},{"a":8.78,"b":8.78,"h":0.615,"k":1}]},"mark":{"type":"rule","color":"#222","strokeWidth":1.1},"encoding":{"x":{"field":"a","type":"quantitative","scale":{"domain":[0,14],"nice":false},"axis":null},"x2":{"field":"b"},"y":{"field":"h","type":"quantitative","scale":{"domain":[0,0.909],"nice":false,"zero":false},"axis":null},"y2":{"field":"k"}}},
{"data":{"values":[{"t":"B)"}]},"mark":{"type":"text","align":"left","baseline":"alphabetic","font":"Open Sans","fontSize":30,"color":"#000"},"encoding":{"x":{"datum":-2.6},"y":{"datum":0.97},"text":{"field":"t"}}}
]},
{"vconcat":[
{"width":376,"height":32,"data":{"values":[{"c":"C6","a":"subject","k":"B6"},{"c":"C2","a":"subject","k":"B2"},{"c":"C5","a":"subject","k":"B5"},{"c":"C4","a":"subject","k":"B4"},{"c":"C7","a":"subject","k":"B7"},{"c":"C1","a":"subject","k":"B1"},{"c":"C3","a":"subject","k":"B3"},{"c":"M1","a":"subject","k":"B1"},{"c":"M5","a":"subject","k":"B5"},{"c":"M7","a":"subject","k":"B7"},{"c":"M2","a":"subject","k":"B2"},{"c":"M3","a":"subject","k":"B3"},{"c":"M4","a":"subject","k":"B4"},{"c":"M6","a":"subject","k":"B6"},{"c":"C6","a":"group","k":"colostrum"},{"c":"C2","a":"group","k":"colostrum"},{"c":"C5","a":"group","k":"colostrum"},{"c":"C4","a":"group","k":"colostrum"},{"c":"C7","a":"group","k":"colostrum"},{"c":"C1","a":"group","k":"colostrum"},{"c":"C3","a":"group","k":"colostrum"},{"c":"M1","a":"group","k":"milk"},{"c":"M5","a":"group","k":"milk"},{"c":"M7","a":"group","k":"milk"},{"c":"M2","a":"group","k":"milk"},{"c":"M3","a":"group","k":"milk"},{"c":"M4","a":"group","k":"milk"},{"c":"M6","a":"group","k":"milk"}]},"mark":{"type":"rect"},"encoding":{"x":{"field":"c","type":"nominal","sort":null,"axis":null,"scale":{"paddingInner":0,"paddingOuter":0}},"y":{"field":"a","type":"nominal","sort":["subject","group"],"scale":{"paddingInner":0.12,"paddingOuter":0},"axis":{"orient":"right","title":null,"domain":false,"ticks":false,"labelFontSize":15,"labelFontWeight":"bold","labelColor":"#000","labelPadding":4}},"color":{"field":"k","type":"nominal","legend":null,"scale":{"domain":["B1","B2","B3","B4","B5","B6","B7","colostrum","milk"],"range":["#00D65C","#EFA800","#F28EF0","#AFC400","#00DDBB","#83B4FF","#00D4FF","#FF8F87","#FF80DD"]}}}},
{"width":376,"height":413,"resolve":{"scale":{"x":"independent"}},"layer":[
{"data":{"name":"heat"},"mark":{"type":"rect"},"encoding":{"x":{"field":"c","type":"nominal","sort":["C6","C2","C5","C4","C7","C1","C3","M1","M5","M7","M2","M3","M4","M6"],"scale":{"paddingInner":0,"paddingOuter":0},"axis":{"title":null,"orient":"bottom","labelAngle":90,"labelAlign":"left","labelBaseline":"middle","domain":false,"ticks":false,"labelFontSize":14.5,"labelColor":"#000","labelPadding":4}},"y":{"field":"r","type":"quantitative","scale":{"domain":[1239,0],"nice":false,"zero":false},"axis":null},"y2":{"field":"R"},"color":{"field":"v","type":"quantitative","legend":null,"scale":{"type":"threshold","domain":[-2.29,-1.14,0,1.14,2.29],"range":["#FFFFB2","#FED976","#FEB24C","#FD8D3C","#F03B20","#BD0026"]}}}},
{"data":{"name":"mass"},"mark":{"type":"area","orient":"horizontal","interpolate":"linear","color":"#000"},"encoding":{"x":{"field":"h","type":"quantitative","scale":{"domain":[0,-1128],"nice":false,"zero":false},"axis":null},"x2":{"datum":0},"y":{"field":"r","type":"quantitative"}}},
{"data":{"values":[{"h":229,"H":229,"r":144,"R":928},{"h":229,"H":192,"r":144,"R":144},{"h":229,"H":192,"r":928,"R":928},{"h":192,"H":192,"r":31,"R":256},{"h":192,"H":179,"r":31,"R":31},{"h":179,"H":179,"r":6,"R":56},{"h":179,"H":152,"r":6,"R":6},{"h":152,"H":152,"r":3,"R":13},{"h":152,"H":117,"r":3,"R":3},{"h":152,"H":117,"r":13,"R":13},{"h":179,"H":145,"r":56,"R":56},{"h":145,"H":145,"r":31,"R":81},{"h":145,"H":122,"r":31,"R":31},{"h":145,"H":137,"r":81,"R":81},{"h":137,"H":137,"r":53,"R":101},{"h":137,"H":107,"r":53,"R":53},{"h":137,"H":117,"r":101,"R":101},{"h":192,"H":185,"r":256,"R":256},{"h":185,"H":185,"r":126,"R":511},{"h":185,"H":102,"r":126,"R":126},{"h":185,"H":169,"r":261,"R":261},{"h":169,"H":169,"r":209,"R":316},{"h":169,"H":152,"r":209,"R":209},{"h":152,"H":152,"r":171,"R":262},{"h":152,"H":137,"r":171,"R":171},{"h":137,"H":137,"r":156,"R":206},{"h":137,"H":102,"r":156,"R":156},{"h":137,"H":127,"r":206,"R":206},{"h":127,"H":127,"r":186,"R":231},{"h":127,"H":97,"r":186,"R":186},{"h":127,"H":117,"r":231,"R":231},{"h":117,"H":117,"r":216,"R":251},{"h":117,"H":92,"r":216,"R":216},{"h":117,"H":107,"r":251,"R":251},{"h":152,"H":137,"r":262,"R":262},{"h":137,"H":137,"r":250,"R":272},{"h":137,"H":87,"r":272,"R":272},{"h":169,"H":152,"r":316,"R":316},{"h":152,"H":152,"r":286,"R":351},{"h":152,"H":117,"r":286,"R":286},{"h":152,"H":142,"r":351,"R":351},{"h":142,"H":142,"r":321,"R":381},{"h":142,"H":117,"r":321,"R":321},{"h":142,"H":132,"r":381,"R":381},{"h":132,"H":132,"r":356,"R":400},{"h":132,"H":107,"r":356,"R":356},{"h":132,"H":92,"r":400,"R":400},{"h":185,"H":162,"r":416,"R":416},{"h":162,"H":162,"r":411,"R":491},{"h":162,"H":132,"r":411,"R":411},{"h":132,"H":132,"r":401,"R":431},{"h":132,"H":97,"r":431,"R":431},{"h":162,"H":142,"r":491,"R":491},{"h":142,"H":142,"r":461,"R":516},{"h":142,"H":117,"r":461,"R":461},{"h":117,"H":117,"r":446,"R":476},{"h":117,"H":97,"r":446,"R":446},{"h":117,"H":97,"r":476,"R":476},{"h":142,"H":127,"r":516,"R":516},{"h":185,"H":175,"r":511,"R":511},{"h":175,"H":175,"r":511,"R":646},{"h":175,"H":163,"r":646,"R":646},{"h":163,"H":163,"r":606,"R":731},{"h":163,"H":152,"r":731,"R":731},{"h":152,"H":152,"r":721,"R":761},{"h":152,"H":57,"r":721,"R":721},{"h":152,"H":132,"r":761,"R":761},{"h":132,"H":132,"r":736,"R":786},{"h":132,"H":77,"r":736,"R":736},{"h":132,"H":62,"r":786,"R":786},{"h":163,"H":142,"r":636,"R":636},{"h":142,"H":142,"r":606,"R":686},{"h":142,"H":134,"r":686,"R":686},{"h":134,"H":134,"r":676,"R":711},{"h":134,"H":87,"r":676,"R":676},{"h":134,"H":117,"r":711,"R":711},{"h":175,"H":147,"r":556,"R":556},{"h":147,"H":147,"r":536,"R":606},{"h":147,"H":117,"r":536,"R":536},{"h":147,"H":127,"r":606,"R":606},{"h":192,"H":192,"r":821,"R":1031},{"h":192,"H":164,"r":821,"R":821},{"h":164,"H":164,"r":793,"R":876},{"h":164,"H":132,"r":793,"R":793},{"h":132,"H":132,"r":776,"R":811},{"h":132,"H":112,"r":776,"R":776},{"h":132,"H":92,"r":811,"R":811},{"h":164,"H":149,"r":876,"R":876},{"h":149,"H":149,"r":868,"R":896},{"h":149,"H":77,"r":868,"R":868},{"h":149,"H":117,"r":896,"R":896},{"h":192,"H":187,"r":1031,"R":1031},{"h":187,"H":187,"r":944,"R":1121},{"h":187,"H":177,"r":944,"R":944},{"h":177,"H":177,"r":898,"R":991},{"h":177,"H":152,"r":898,"R":898},{"h":152,"H":152,"r":890,"R":908},{"h":152,"H":117,"r":890,"R":890},{"h":152,"H":62,"r":908,"R":908},{"h":177,"H":162,"r":991,"R":991},{"h":162,"H":162,"r":948,"R":1041},{"h":162,"H":137,"r":948,"R":948},{"h":137,"H":137,"r":926,"R":1026},{"h":137,"H":87,"r":926,"R":926},{"h":137,"H":117,"r":1026,"R":1026},{"h":117,"H":117,"r":1000,"R":1050},{"h":117,"H":87,"r":1000,"R":1000},{"h":117,"H":77,"r":1050,"R":1050},{"h":162,"H":142,"r":1041,"R":1041},{"h":142,"H":142,"r":1026,"R":1056},{"h":142,"H":97,"r":1026,"R":1026},{"h":142,"H":112,"r":1056,"R":1056},{"h":187,"H":179,"r":1121,"R":1121},{"h":179,"H":179,"r":1068,"R":1176},{"h":179,"H":157,"r":1068,"R":1068},{"h":157,"H":157,"r":1058,"R":1098},{"h":157,"H":107,"r":1058,"R":1058},{"h":157,"H":137,"r":1098,"R":1098},{"h":137,"H":137,"r":1088,"R":1118},{"h":137,"H":87,"r":1088,"R":1088},{"h":137,"H":117,"r":1118,"R":1118},{"h":179,"H":175,"r":1176,"R":1176},{"h":175,"H":175,"r":1144,"R":1206},{"h":175,"H":137,"r":1144,"R":1144},{"h":137,"H":137,"r":1126,"R":1166},{"h":137,"H":37,"r":1126,"R":1126},{"h":137,"H":107,"r":1166,"R":1166},{"h":175,"H":162,"r":1206,"R":1206},{"h":162,"H":162,"r":1196,"R":1228},{"h":162,"H":117,"r":1196,"R":1196},{"h":162,"H":107,"r":1228,"R":1228}]},"mark":{"type":"rule","color":"#111","strokeWidth":1.1},"encoding":{"x":{"field":"h","type":"quantitative","scale":{"domain":[0,-1128],"nice":false,"zero":false},"axis":null},"x2":{"field":"H"},"y":{"field":"r","type":"quantitative"},"y2":{"field":"R"}}}
]}
],"spacing":3,"resolve":{"scale":{"color":"independent"},"legend":{"color":"independent"}}}
],"spacing":-1,"resolve":{"scale":{"color":"independent"},"legend":{"color":"independent"}}},
{"vconcat":[
{"width":18,"height":101,"data":{"values":[{"s":1}]},"mark":{"type":"rect","opacity":0}},
{"width":18,"height":126,"title":{"text":"subject","anchor":"start","frame":"group","fontSize":12,"fontWeight":"bold","color":"#000","offset":2},"data":{"values":[{"k":"B1"},{"k":"B2"},{"k":"B3"},{"k":"B4"},{"k":"B5"},{"k":"B6"},{"k":"B7"}]},"mark":{"type":"rect"},"encoding":{"y":{"field":"k","type":"nominal","sort":null,"scale":{"paddingInner":0,"paddingOuter":0},"axis":{"orient":"right","title":null,"domain":false,"ticks":false,"labelFontSize":12.5,"labelColor":"#000","labelPadding":3}},"color":{"field":"k","type":"nominal","legend":null,"scale":{"domain":["B1","B2","B3","B4","B5","B6","B7"],"range":["#52B85C","#EFA91E","#CF96C4","#ABC337","#52BFA6","#8CB0DE","#42C8F2"]}}}},
{"width":18,"height":36,"title":{"text":"group","anchor":"start","frame":"group","fontSize":12,"fontWeight":"bold","color":"#000","offset":2},"data":{"values":[{"k":"colostrum"},{"k":"milk"}]},"mark":{"type":"rect"},"encoding":{"y":{"field":"k","type":"nominal","sort":null,"scale":{"paddingInner":0,"paddingOuter":0},"axis":{"orient":"right","title":null,"domain":false,"ticks":false,"labelFontSize":12.5,"labelColor":"#000","labelPadding":3}},"color":{"field":"k","type":"nominal","legend":null,"scale":{"domain":["colostrum","milk"],"range":["#F68E8C","#E184BD"]}}}},
{"width":16,"height":190,"data":{"values":[{"lo":2.29,"hi":3.43,"b":"3"},{"lo":1.14,"hi":2.29,"b":"2"},{"lo":0,"hi":1.14,"b":"1"},{"lo":-1.14,"hi":0,"b":"0"},{"lo":-2.29,"hi":-1.14,"b":"-1"},{"lo":-3.43,"hi":-2.29,"b":"-2"}]},"mark":{"type":"rect"},"encoding":{"x":{"datum":0.13,"scale":{"domain":[0,1],"nice":false},"axis":null},"x2":{"datum":1},"y":{"field":"lo","type":"quantitative","scale":{"domain":[-3.43,3.43],"nice":false,"zero":false},"axis":{"orient":"right","title":null,"values":[-3,-2,-1,0,1,2,3],"domain":false,"ticks":false,"grid":false,"labelFontSize":12.5,"labelColor":"#000","labelPadding":5}},"y2":{"field":"hi"},"color":{"field":"b","type":"nominal","legend":null,"scale":{"domain":["3","2","1","0","-1","-2"],"range":["#BE1E2D","#EF4023","#F68D3C","#FBB04B","#FDD777","#FBF7B3"]}}}}
],"spacing":13,"resolve":{"scale":{"color":"independent"},"legend":{"color":"independent"}}}
]}
